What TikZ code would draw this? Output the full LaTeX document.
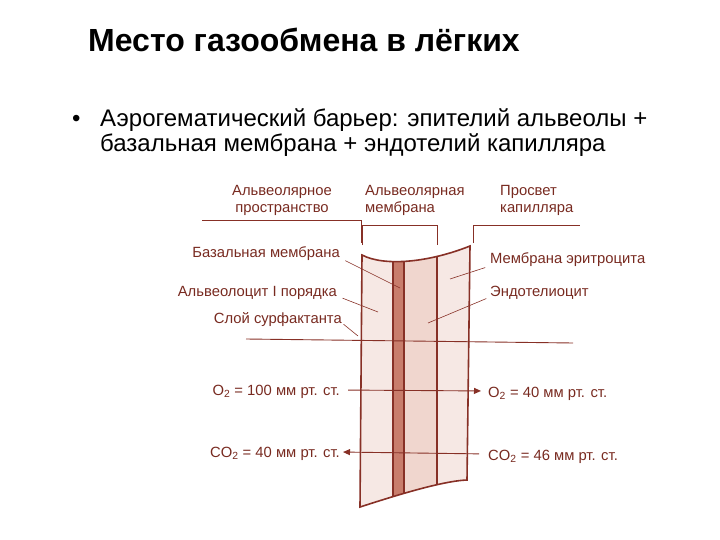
\documentclass[tikz,border=0pt]{standalone}
\usepackage{fontspec}
\setmainfont{Liberation Sans}
\usetikzlibrary{arrows.meta}
\definecolor{scantext}{RGB}{120,42,32}
\definecolor{scanline}{RGB}{135,48,38}
\definecolor{pinkA}{RGB}{246,232,228}
\definecolor{pinkB}{RGB}{240,214,206}
\definecolor{bandfill}{RGB}{200,125,108}
\tikzset{
  lab/.style={text=scantext, font=\fontsize{14.8}{17.5}\selectfont, inner sep=0pt},
  slide/.style={anchor=base west, inner sep=0pt, font=\fontsize{24}{25}\selectfont},
  pointer/.style={scanline, line width=0.6pt},
  wall/.style={scanline, line width=1.6pt},
  flow/.style={scanline, line width=0.9pt, -{Triangle[length=7pt,width=6pt]}}
}

\begin{document}
\begin{tikzpicture}[x=1pt, y=-1pt]
    \useasboundingbox (0,0) rectangle (720,540);

    % Заголовок и текст
    \node[anchor=base west, inner sep=0pt, font=\fontsize{32}{36}\selectfont\bfseries] (title) at (88,52) {Место газообмена в лёгких};
    \node[slide] (bullet) at (72,127) {•};
    \node[slide] (barrier) at (100,127) {Аэрогематический барьер: эпителий альвеолы +};
    \node[slide] (barrier2) at (100,152) {базальная мембрана + эндотелий капилляра};

    % Стенка: заливки
    \fill[pinkA] (362,255) .. controls (385,267) and (430,262) .. (470,246)
        -- (467,480) .. controls (440,481) and (385,499) .. (360,507) -- cycle;
    \begin{scope}
        \clip (362,255) .. controls (385,267) and (430,262) .. (470,246)
            -- (467,480) .. controls (440,481) and (385,499) .. (360,507) -- cycle;
        \fill[pinkB] (404,240) rectangle (437,520);
        \fill[bandfill] (393,240) rectangle (404,520);
        \draw[scanline, line width=1.2pt] (393,240) -- (393,520);
        \draw[scanline, line width=1.2pt] (404,240) -- (404,520);
        \draw[scanline, line width=2.2pt] (437,240) -- (437,520);
    \end{scope}
    \draw[wall] (362,255) .. controls (385,267) and (430,262) .. (470,246)
        -- (467,480) .. controls (440,481) and (385,499) .. (360,507) -- cycle;

    % Скобки сверху
    \draw[pointer] (202,220) -- (361,220) -- (361,243);
    \draw[pointer] (362,245) -- (362,225) -- (437,225) -- (437,245);
    \draw[pointer] (473,243) -- (473,225) -- (580,225);

    % Подписи сверху
    \node[lab, anchor=base, align=center] (space) at (282,213) {Альвеолярное\\пространство};
    \node[lab, anchor=base west, align=left] (amem) at (365,213) {Альвеолярная\\мембрана};
    \node[lab, anchor=base west, align=left] (lumen) at (500,213) {Просвет\\капилляра};

    % Подписи слева
    \node[lab, anchor=base east] (basal) at (340,258) {Базальная мембрана};
    \node[lab, anchor=base east] (alveo) at (337,296) {Альвеолоцит I порядка};
    \node[lab, anchor=base east] (surf) at (342,323) {Слой сурфактанта};
    \coordinate (basaltip) at (400,288);
    \coordinate (alveotip) at (378,312);
    \coordinate (surftip) at (358,336);
    \draw[pointer, shorten <=6pt] (basal.base east) -- (basaltip);
    \draw[pointer, shorten <=6pt] (alveo.base east) -- (alveotip);
    \draw[pointer, shorten <=2pt] (surf.base east) -- (surftip);

    % Подписи справа
    \node[lab, anchor=base west] (eryth) at (490,263) {Мембрана эритроцита};
    \node[lab, anchor=base west] (endo) at (490,296) {Эндотелиоцит};
    \coordinate (erythtip) at (450,279);
    \coordinate (endotip) at (428,323);
    \draw[pointer, shorten <=5pt] ([yshift=-3pt]eryth.base west) -- (erythtip);
    \draw[pointer, shorten <=4pt] ([yshift=-1pt]endo.base west) -- (endotip);

    % Граница
    \coordinate (cutL) at (246,339);
    \coordinate (cutR) at (573,343);
    \draw[pointer, line width=0.9pt] (cutL) -- (cutR);

    % Парциальные давления
    \node[lab, anchor=base east] (o2a) at (340,395) {O\textsubscript{2} = 100 мм рт. ст.};
    \node[lab, anchor=base east] (co2a) at (340,457) {CO\textsubscript{2} = 40 мм рт. ст.};
    \node[lab, anchor=base west] (o2c) at (488,397) {O\textsubscript{2} = 40 мм рт. ст.};
    \node[lab, anchor=base west] (co2c) at (488,460) {CO\textsubscript{2} = 46 мм рт. ст.};
    \draw[flow, shorten <=8pt, shorten >=7pt] ([yshift=5pt]o2a.base east) -- ([yshift=6pt]o2c.base west);
    \draw[flow, shorten <=9pt, shorten >=3pt] ([yshift=6pt]co2c.base west) -- ([yshift=5pt]co2a.base east);
\end{tikzpicture}
\end{document}
